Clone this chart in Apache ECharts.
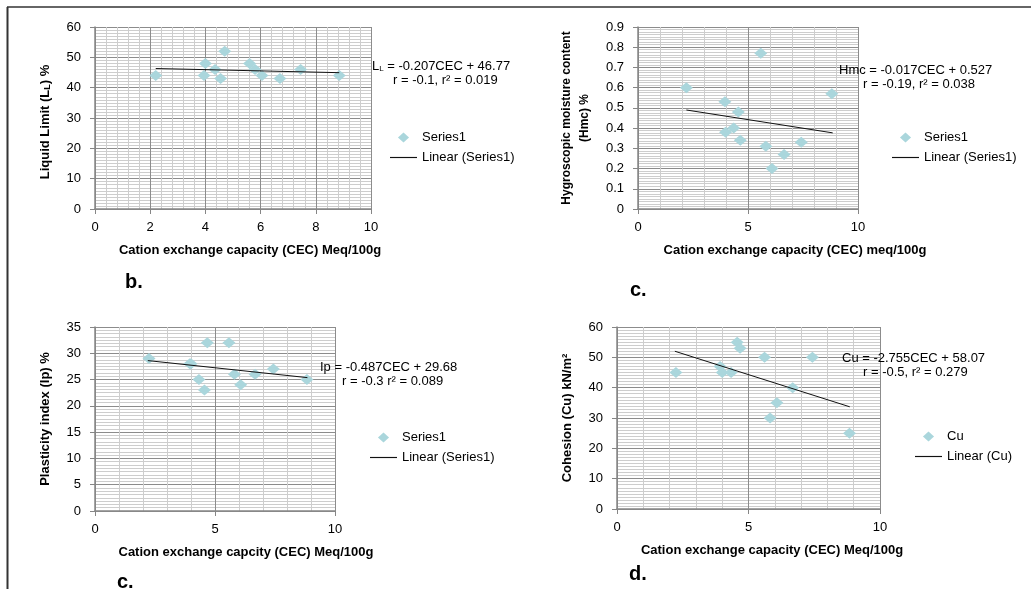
<!DOCTYPE html>
<html>
<head>
<meta charset="utf-8">
<script src="https://cdn.jsdelivr.net/npm/echarts@6/dist/echarts.min.js"></script>
<style>
html,body{margin:0;padding:0;background:#fff;}
#chart{width:1031px;height:589px;}
</style>
</head>
<body>
<div id="chart"></div>
<script>
// ---- Data ----
// Panel b: Liquid limit vs CEC
const cecLL = [2.2, 3.95, 4.0, 4.35, 4.55, 4.7, 5.6, 5.8, 6.05, 6.7, 7.45, 8.85];
const liquidLimit = [44, 44, 48, 46, 43, 52, 48, 46, 44, 43, 46, 44];
const trendLL = [[2.2, 46.31], [8.85, 44.94]];
// Panel c (top): Hygroscopic moisture content vs CEC
const cecHmc = [2.2, 3.95, 3.98, 4.35, 4.56, 4.65, 5.58, 5.81, 6.09, 6.64, 7.42, 8.81];
const hmc = [0.60, 0.53, 0.38, 0.40, 0.48, 0.34, 0.77, 0.31, 0.20, 0.27, 0.33, 0.57];
const trendHmc = [[2.2, 0.4896], [8.85, 0.3765]];
// Panel c (bottom): Plasticity index vs CEC
const cecIp = [2.25, 3.95, 4.0, 4.33, 4.56, 4.68, 5.58, 5.81, 6.07, 6.67, 7.43, 8.83];
const plasticity = [29, 28, 28, 25, 23, 32, 32, 26, 24, 26, 27, 25];
const trendIp = [[2.2, 28.61], [8.85, 25.37]];
// Panel d: Cohesion vs CEC
const cecCu = [2.24, 3.92, 4.0, 4.34, 4.57, 4.68, 5.61, 5.82, 6.08, 6.68, 7.43, 8.84];
const cohesion = [45, 47, 45, 45, 55, 53, 50, 30, 35, 40, 50, 25];
const trendCu = [[2.2, 52.01], [8.85, 33.69]];

// ---- Styling ----
const FONT = '"Liberation Sans", Arial, sans-serif';
const NARROW = '"Liberation Sans Narrow", "Liberation Sans", Arial, sans-serif';
const MARK = '#aad6dc';
const MAJOR = '#8c8c8c';
const MINOR = '#cdcdcd';
const AXIS = '#868686';
const DIAMOND_ICON = 'path://M5,0 L10,4.5 L5,9 L0,4.5 Z';
const LINE_ICON = 'path://M0,0 L28,0 L28,1.2 L0,1.2 Z';

function xAx(gi, interval, minorN) {
  return {
    type: 'value', gridIndex: gi, min: 0, max: 10, interval: interval,
    axisLine: {show: true, onZero: false, lineStyle: {color: AXIS, width: 1.5}},
    axisTick: {show: true, length: 5, lineStyle: {color: AXIS}},
    axisLabel: {color: '#000', fontSize: 13, fontFamily: FONT, margin: 12},
    splitLine: {show: true, lineStyle: {color: MAJOR, width: 1}},
    minorTick: {show: false, splitNumber: minorN},
    minorSplitLine: {show: true, lineStyle: {color: MINOR, width: 1}}
  };
}
function yAx(gi, max, interval, minorN) {
  return {
    type: 'value', gridIndex: gi, min: 0, max: max, interval: interval,
    axisLine: {show: true, onZero: false, lineStyle: {color: AXIS, width: 1.5}},
    axisTick: {show: true, length: 5, lineStyle: {color: AXIS}},
    axisLabel: {color: '#000', fontSize: 13, fontFamily: FONT, margin: 14},
    splitLine: {show: true, lineStyle: {color: MAJOR, width: 1}},
    minorTick: {show: false, splitNumber: minorN},
    minorSplitLine: {show: true, lineStyle: {color: MINOR, width: 1}}
  };
}
function zip(xs, ys) { return xs.map((x, i) => [x, ys[i]]); }
function scat(name, gi, xs, ys) {
  return {type: 'scatter', name: name, xAxisIndex: gi, yAxisIndex: gi, data: zip(xs, ys),
    symbol: 'diamond', symbolSize: [13, 11], itemStyle: {color: MARK, opacity: 1}, z: 2,
    emphasis: {disabled: true}};
}
function trend(name, gi, pts) {
  return {type: 'line', name: name, xAxisIndex: gi, yAxisIndex: gi, data: pts,
    symbol: 'none', showSymbol: false, lineStyle: {color: '#111', width: 1}, itemStyle: {color: '#111'},
    z: 3, silent: true, animation: false};
}
function leg(left, top, names) {
  return {orient: 'vertical', left: left, top: top, itemGap: 7, itemWidth: 27, itemHeight: 10,
    symbolKeepAspect: true, selectedMode: false,
    textStyle: {color: '#000', fontSize: 13, fontFamily: FONT},
    data: [
      {name: names[0], icon: DIAMOND_ICON, itemStyle: {color: MARK}},
      {name: names[1], icon: LINE_ICON, itemStyle: {color: '#111'}}
    ]};
}
function txt(x, y, text, font, opts) {
  const o = opts || {};
  return {type: 'text', x: x, y: y, rotation: o.rot || 0, z: 10,
    style: Object.assign({text: text, font: font, fill: '#000',
      textAlign: o.align || 'left', textVerticalAlign: 'middle',
      align: o.align || 'left', verticalAlign: 'middle'}, o.rich ? {rich: o.rich} : {})};
}
const subRich = {s: {fontSize: 8, fontFamily: FONT, verticalAlign: 'bottom', padding: [5, 0, 0, 0]}};
const subRichB = {s: {fontSize: 9, fontWeight: 'bold', fontFamily: NARROW, verticalAlign: 'bottom', padding: [5, 0, 0, 0]}};

const option = {
  animation: false,
  backgroundColor: '#fff',
  grid: [
    {left: 95, top: 27, width: 276, height: 182},
    {left: 638, top: 27, width: 220, height: 182},
    {left: 95, top: 327, width: 240, height: 184},
    {left: 617, top: 327, width: 263, height: 182}
  ],
  xAxis: [xAx(0, 2, 5), xAx(1, 5, 5), xAx(2, 5, 5), xAx(3, 5, 5)],
  yAxis: [yAx(0, 60, 10, 10), yAx(1, 0.9, 0.1, 8), yAx(2, 35, 5, 8), yAx(3, 60, 10, 10)],
  legend: [
    leg(385, 126, ['Series1', 'Linear (Series1)']),
    leg(887, 126, ['Series1', 'Linear (Series1)']),
    leg(365, 426, ['Series1', 'Linear (Series1)']),
    leg(910, 425, ['Cu', 'Linear (Cu)'])
  ],
  series: [
    scat('Series1', 0, cecLL, liquidLimit), trend('Linear (Series1)', 0, trendLL),
    scat('Series1', 1, cecHmc, hmc), trend('Linear (Series1)', 1, trendHmc),
    scat('Series1', 2, cecIp, plasticity), trend('Linear (Series1)', 2, trendIp),
    scat('Cu', 3, cecCu, cohesion), trend('Linear (Cu)', 3, trendCu)
  ],
  graphic: [
    // frame
    {type: 'line', shape: {x1: 7, y1: 7, x2: 1031, y2: 7}, style: {stroke: '#333', lineWidth: 1.5}},
    {type: 'line', shape: {x1: 7.5, y1: 7, x2: 7.5, y2: 589}, style: {stroke: '#333', lineWidth: 2}},
    // equations
    txt(372, 66, 'L{s|L} = -0.207CEC + 46.77', '13px ' + FONT, {rich: subRich}),
    txt(393, 80, 'r = -0.1, r² = 0.019', '13px ' + FONT),
    txt(839, 70, 'Hmc = -0.017CEC + 0.527', '13px ' + FONT),
    txt(863, 84, 'r = -0.19, r² = 0.038', '13px ' + FONT),
    txt(320, 367, 'Ip = -0.487CEC + 29.68', '13px ' + FONT),
    txt(342, 381, 'r = -0.3 r² = 0.089', '13px ' + FONT),
    txt(842, 358, 'Cu = -2.755CEC + 58.07', '13px ' + FONT),
    txt(863, 372, 'r = -0.5, r² = 0.279', '13px ' + FONT),
    // x axis titles
    txt(250, 250, 'Cation exchange capacity (CEC) Meq/100g', 'bold 13px ' + FONT, {align: 'center'}),
    txt(795, 250, 'Cation exchange capacity (CEC) meq/100g', 'bold 13px ' + FONT, {align: 'center'}),
    txt(246, 552, 'Cation exchange capcity (CEC) Meq/100g', 'bold 13px ' + FONT, {align: 'center'}),
    txt(772, 550, 'Cation exchange capacity (CEC) Meq/100g', 'bold 13px ' + FONT, {align: 'center'}),
    // y axis titles
    txt(45, 122, 'Liquid Limit (L{s|L}) %', 'bold 13px ' + NARROW, {align: 'center', rot: Math.PI / 2, rich: subRichB}),
    txt(567, 118, 'Hygroscopic moisture content', 'bold 12px ' + NARROW, {align: 'center', rot: Math.PI / 2}),
    txt(585, 118, '(Hmc) %', 'bold 12px ' + NARROW, {align: 'center', rot: Math.PI / 2}),
    txt(45, 419, 'Plasticity index (Ip) %', 'bold 13px ' + NARROW, {align: 'center', rot: Math.PI / 2}),
    txt(567, 418, 'Cohesion (Cu) kN/m²', 'bold 13px ' + NARROW, {align: 'center', rot: Math.PI / 2}),
    // panel labels
    txt(125, 282, 'b.', 'bold 20px ' + FONT),
    txt(630, 290, 'c.', 'bold 20px ' + FONT),
    txt(117, 582, 'c.', 'bold 20px ' + FONT),
    txt(629, 574, 'd.', 'bold 20px ' + FONT)
  ]
};
const chart = echarts.init(document.getElementById('chart'), null, {renderer: 'canvas'});
chart.setOption(option);
</script>
</body>
</html>
